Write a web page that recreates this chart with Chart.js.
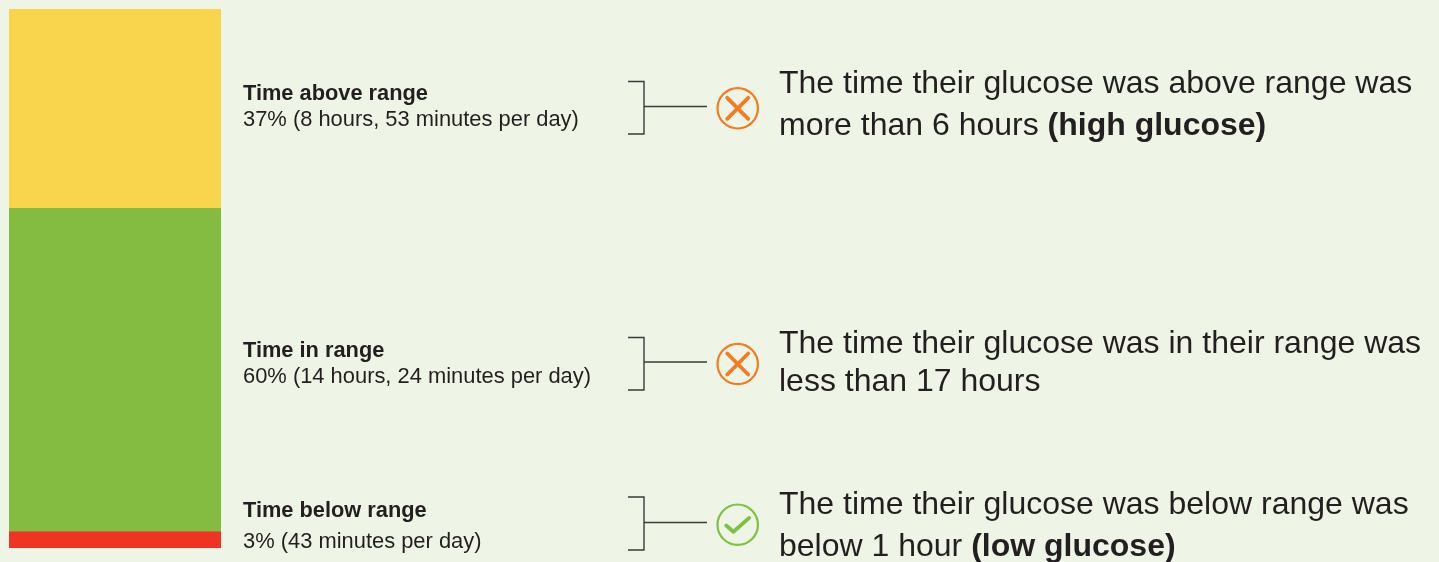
<!DOCTYPE html>
<html>
<head>
<meta charset="utf-8">
<script src="https://cdn.jsdelivr.net/npm/chart.js@4"></script>
<style>
  html, body { margin: 0; padding: 0; background: #eff5e6; overflow: hidden; }
  canvas { display: block; }
</style>
</head>
<body>
<canvas id="myChart" width="1439" height="562"></canvas>
<script>
// top to bottom, as in the picture
const categories = ['Time above range', 'Time in range', 'Time below range'];
const shareValues = [37, 60, 3];
const durations = ['37% (8 hours, 53 minutes per day)', '60% (14 hours, 24 minutes per day)', '3% (43 minutes per day)'];
const targetMet = [false, false, true];
const noteLine1 = ['The time their glucose was above range was', 'The time their glucose was in their range was', 'The time their glucose was below range was'];
const noteLine2 = ['more than 6 hours ', 'less than 17 hours', 'below 1 hour '];
const noteBold = ['(high glucose)', '', '(low glucose)'];

const barColors = ['#f8d54c', '#84bc41', '#f13324'];
const inkColor = '#231f20';
const labelFont = 'Liberation Sans';

// y positions of the text rows, per category
const rows = [
  { title: 100, sub: 126, top: 81.5, bottom: 134, mid: 106.5, icon: 108.3, note1: 93, note2: 135 },
  { title: 357, sub: 383, top: 337.5, bottom: 390, mid: 362, icon: 364, note1: 353, note2: 391 },
  { title: 517, sub: 548, top: 497, bottom: 550, mid: 522.5, icon: 524.7, note1: 514, note2: 556 }
];

function drawIcon(c, cy, ok) {
  const cx = 737.7;
  c.strokeStyle = ok ? '#7fc241' : '#f47b20';
  c.lineWidth = 2.2;
  c.beginPath();
  c.arc(cx, cy, 20.2, 0, Math.PI * 2);
  c.stroke();
  c.lineCap = 'round';
  c.lineJoin = 'round';
  c.lineWidth = 3.8;
  c.beginPath();
  if (ok) {
    c.moveTo(cx - 11.5, cy + 0.8);
    c.lineTo(cx - 4.3, cy + 7);
    c.lineTo(cx + 11.5, cy - 6.8);
  } else {
    c.moveTo(cx - 10.5, cy - 10.5);
    c.lineTo(cx + 10.5, cy + 10.5);
    c.moveTo(cx + 10.5, cy - 10.5);
    c.lineTo(cx - 10.5, cy + 10.5);
  }
  c.stroke();
  c.lineCap = 'butt';
  c.lineJoin = 'miter';
}

const annotations = {
  id: 'annotations',
  afterDraw(chart) {
    const c = chart.ctx;
    c.save();
    c.textAlign = 'left';
    c.textBaseline = 'alphabetic';
    c.lineJoin = 'miter';
    categories.forEach((cat, i) => {
      const r = rows[i];
      c.fillStyle = inkColor;
      c.font = 'bold 21.8px "' + labelFont + '"';
      c.fillText(cat, 243, r.title);
      c.font = '21.9px "' + labelFont + '"';
      c.fillText(durations[i], 243, r.sub);

      c.font = '32px "' + labelFont + '"';
      c.fillText(noteLine1[i], 779, r.note1);
      c.fillText(noteLine2[i], 779, r.note2);
      const w = c.measureText(noteLine2[i]).width;
      c.font = 'bold 32px "' + labelFont + '"';
      c.fillText(noteBold[i], 779 + w, r.note2);

      // bracket and connector
      c.strokeStyle = '#3a3a3a';
      c.lineWidth = 1.4;
      c.beginPath();
      c.moveTo(628, r.top);
      c.lineTo(644, r.top);
      c.lineTo(644, r.bottom);
      c.lineTo(628, r.bottom);
      c.moveTo(644, r.mid);
      c.lineTo(707, r.mid);
      c.stroke();

      drawIcon(c, r.icon, targetMet[i]);
    });
    c.restore();
  }
};

const ctx = document.getElementById('myChart').getContext('2d');
// stack order is bottom up, so the series go in reversed
const myChart = new Chart(ctx, {
  type: 'bar',
  data: {
    labels: ['Time in ranges'],
    datasets: categories.map((cat, i) => ({
      label: cat,
      data: [shareValues[i]],
      backgroundColor: barColors[i],
      borderWidth: 0
    })).reverse()
  },
  options: {
    responsive: false,
    animation: false,
    layout: { padding: { left: 9, right: 1218, top: 9, bottom: 14 } },
    datasets: { bar: { barPercentage: 1, categoryPercentage: 1 } },
    plugins: { legend: { display: false }, tooltip: { enabled: false } },
    scales: {
      x: { stacked: true, display: false },
      y: { stacked: true, display: false, min: 0, max: 100 }
    }
  },
  plugins: [annotations]
});
</script>
</body>
</html>
